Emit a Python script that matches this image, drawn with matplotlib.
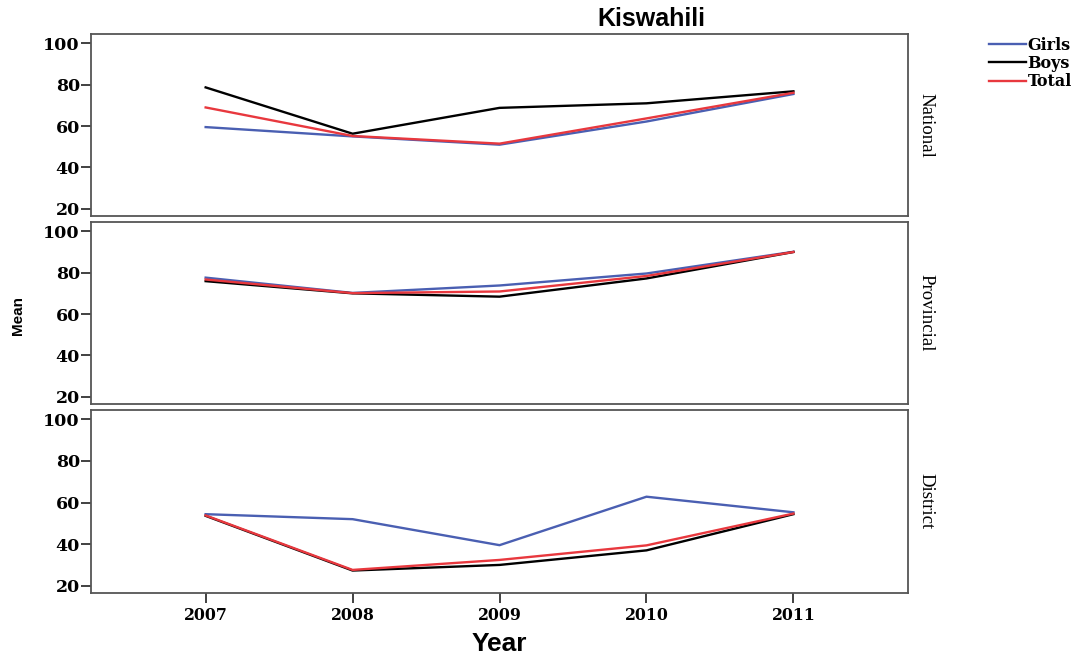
import matplotlib
matplotlib.use("Agg")
import matplotlib.pyplot as plt
from matplotlib.lines import Line2D

years = [2007, 2008, 2009, 2010, 2011]
levels = ["National", "Provincial", "District"]

girls = {
    "National": [59.5, 55.0, 51.0, 62.2, 75.5],
    "Provincial": [77.6, 70.2, 73.8, 79.6, 90.1],
    "District": [54.4, 52.0, 39.5, 62.8, 55.3],
}
boys = {
    "National": [78.7, 56.3, 68.8, 71.0, 76.8],
    "Provincial": [75.9, 70.0, 68.4, 77.2, 90.0],
    "District": [53.6, 27.3, 30.0, 37.0, 54.4],
}
total = {
    "National": [69.0, 55.2, 51.5, 63.7, 76.1],
    "Provincial": [76.7, 70.1, 70.9, 78.4, 90.0],
    "District": [53.8, 27.6, 32.4, 39.4, 54.7],
}

c_girls = "#4a5fb2"
c_boys = "#000000"
c_total = "#e8383e"

fig = plt.figure(figsize=(10.76, 6.57), dpi=100)

left, right = 0.0846, 0.8439
panels = [(0.9482, 0.6712), (0.6621, 0.3851), (0.3760, 0.0974)]

serif = "DejaVu Serif"
tserif = "Liberation Serif"
sans = "Liberation Sans"

for i, name in enumerate(levels):
    top, bot = panels[i]
    ax = fig.add_axes([left, bot, right - left, top - bot])
    ax.plot(years, girls[name], color=c_girls, lw=1.7)
    ax.plot(years, boys[name], color=c_boys, lw=1.7)
    ax.plot(years, total[name], color=c_total, lw=1.7)
    ax.set_xlim(2006.22, 2011.78)
    ax.set_ylim(16.5, 104.5)
    ax.set_yticks([20, 40, 60, 80, 100])
    for s in ax.spines.values():
        s.set_color("#555555")
        s.set_linewidth(1.3)
    ax.tick_params(axis="y", length=7, width=1.3, color="#333333", pad=1)
    for lab in ax.get_yticklabels():
        lab.set_fontfamily(serif)
        lab.set_fontweight("bold")
        lab.set_fontsize(12.5)
    if i < 2:
        ax.set_xticks([])
    else:
        ax.set_xticks(years)
        ax.tick_params(axis="x", length=7, width=1.3, color="#333333", pad=3)
        for lab in ax.get_xticklabels():
            lab.set_fontfamily(serif)
            lab.set_fontweight("bold")
            lab.set_fontsize(11.3)
        ax.set_xlabel("Year", fontfamily=sans, fontweight="bold", fontsize=19, labelpad=6)
    ax.text(1.012, 0.5, name, transform=ax.transAxes, rotation=-90,
            ha="left", va="center", fontfamily=tserif, fontsize=13.5)

fig.text(0.605, 0.971, "Kiswahili", ha="center", va="center",
         fontfamily=sans, fontweight="bold", fontsize=18)
fig.text(0.017, 0.52, "Mean", ha="center", va="center", rotation=90,
         fontfamily=sans, fontweight="bold", fontsize=11)

handles = [Line2D([], [], color=c_girls, lw=1.7),
           Line2D([], [], color=c_boys, lw=1.7),
           Line2D([], [], color=c_total, lw=1.7)]
leg = fig.legend(handles, ["Girls", "Boys", "Total"], loc="upper left",
                 bbox_to_anchor=(0.906, 0.966), frameon=False,
                 handlelength=2.3, handletextpad=0.1, labelspacing=0.08,
                 prop={"family": serif, "weight": "bold", "size": 11.5})

fig.savefig("out.png", dpi=100)
